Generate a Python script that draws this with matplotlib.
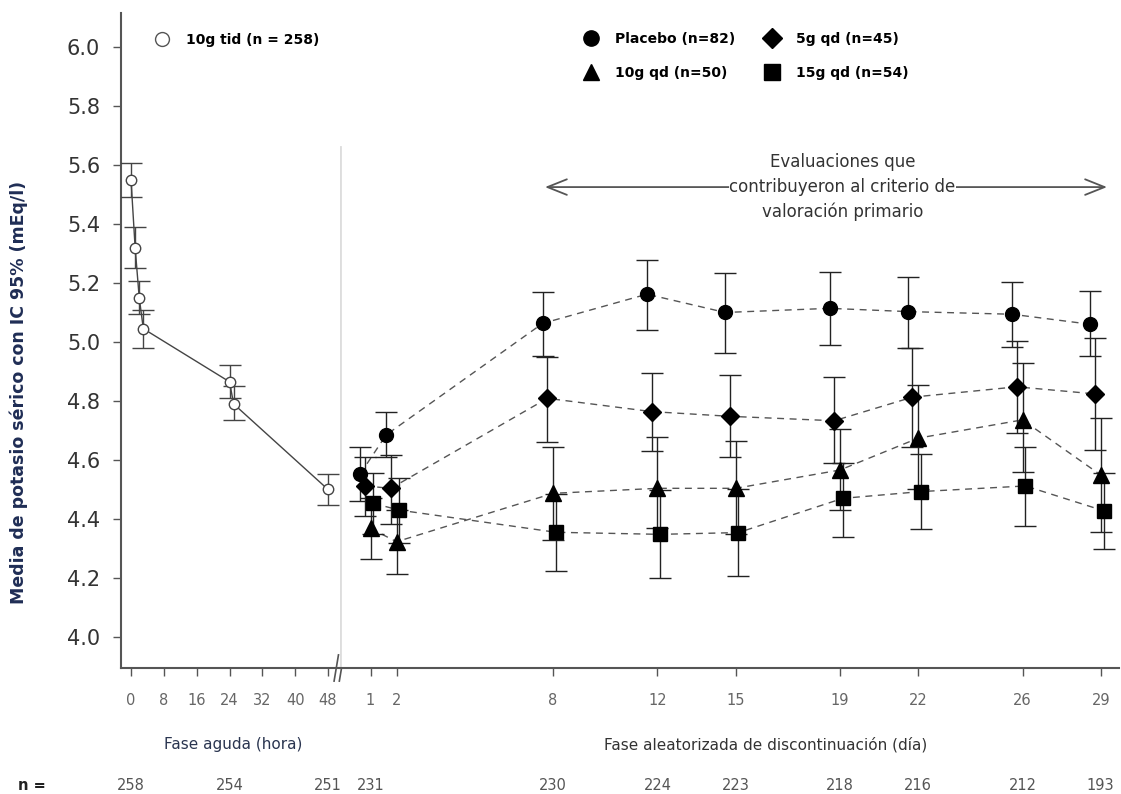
import numpy as np
import matplotlib.pyplot as plt
from matplotlib.lines import Line2D

# ---------------- data ----------------
# acute phase: 10 g tid, hours
acute_hours = [0, 1, 2, 3, 24, 25, 48]
acute_mean = [5.55, 5.32, 5.15, 5.045, 4.865, 4.79, 4.50]
acute_lo = [5.49, 5.25, 5.095, 4.98, 4.81, 4.735, 4.447]
acute_hi = [5.605, 5.39, 5.205, 5.11, 4.922, 4.85, 4.553]

# randomized withdrawal phase, days
days = [1, 2, 8, 12, 15, 19, 22, 26, 29]

placebo_mean = [4.552, 4.685, 5.063, 5.162, 5.10, 5.114, 5.103, 5.094, 5.06]
placebo_lo = [4.46, 4.609, 4.953, 5.041, 4.962, 4.99, 4.979, 4.984, 4.953]
placebo_hi = [4.645, 4.762, 5.171, 5.278, 5.233, 5.238, 5.221, 5.204, 5.173]

g5_mean = [4.512, 4.504, 4.809, 4.764, 4.748, 4.733, 4.813, 4.848, 4.824]
g5_lo = [4.41, 4.383, 4.662, 4.632, 4.609, 4.589, 4.645, 4.69, 4.634]
g5_hi = [4.61, 4.617, 4.95, 4.894, 4.888, 4.882, 4.979, 5.003, 5.013]

g10_mean = [4.368, 4.323, 4.487, 4.504, 4.504, 4.566, 4.674, 4.736, 4.549]
g10_lo = [4.263, 4.213, 4.33, 4.37, 4.35, 4.43, 4.5, 4.56, 4.357]
g10_hi = [4.47, 4.43, 4.643, 4.677, 4.664, 4.704, 4.854, 4.93, 4.741]

g15_mean = [4.453, 4.43, 4.355, 4.348, 4.354, 4.47, 4.493, 4.512, 4.428]
g15_lo = [4.35, 4.32, 4.225, 4.199, 4.207, 4.338, 4.365, 4.376, 4.30]
g15_hi = [4.555, 4.539, 4.485, 4.497, 4.50, 4.59, 4.62, 4.645, 4.555]

acute_ticks = [0, 8, 16, 24, 32, 40, 48]
acute_n = {0: 258, 24: 254, 48: 251}
day_n = [231, None, 230, 224, 223, 218, 216, 212, 193]

groups = [
    ("Placebo (n=82)", placebo_mean, placebo_lo, placebo_hi),
    ("5g qd (n=45)", g5_mean, g5_lo, g5_hi),
    ("10g qd (n=50)", g10_mean, g10_lo, g10_hi),
    ("15g qd (n=54)", g15_mean, g15_lo, g15_hi),
]
# marker style and small horizontal dodge per group
styles = {
    "Placebo (n=82)": dict(marker="o", ms=10, dodge=-0.4),
    "5g qd (n=45)": dict(marker="D", ms=9.5, dodge=-0.22),
    "10g qd (n=50)": dict(marker="^", ms=11, dodge=0.0),
    "15g qd (n=54)": dict(marker="s", ms=10.5, dodge=0.11),
}

# ---------------- figure ----------------
W, H = 1121, 794
fig = plt.figure(figsize=(W / 100, H / 100), dpi=100)

ax_bottom = (H - 668) / H
ax_height = 655 / H
ax1 = fig.add_axes([121 / W, ax_bottom, 219 / W, ax_height])
ax2 = fig.add_axes([340 / W, ax_bottom, 779 / W, ax_height], sharey=ax1)

ylim = (3.895, 6.115)
ax1.set_ylim(*ylim)
ax1.set_xlim(-2.44, 50.92)
ax2.set_xlim(-0.17, 29.7)

spine_col = "#555555"
for ax in (ax1, ax2):
    ax.spines["top"].set_visible(False)
    ax.spines["right"].set_visible(False)
    ax.spines["bottom"].set_color(spine_col)
    ax.spines["bottom"].set_linewidth(1.5)
    ax.tick_params(axis="x", direction="out", length=6, width=1,
                   colors=spine_col, labelcolor="#666666", labelsize=10.5, pad=12)
ax1.spines["left"].set_color(spine_col)
ax1.spines["left"].set_linewidth(1.5)
ax2.spines["left"].set_visible(False)
ax2.tick_params(axis="y", left=False, labelleft=False)

ax1.set_yticks(np.arange(4.0, 6.01, 0.2))
ax1.set_yticklabels([f"{v:.1f}" for v in np.arange(4.0, 6.01, 0.2)])
ax1.tick_params(axis="y", direction="out", length=6, width=1, colors=spine_col,
                labelcolor="#333333", labelsize=15, pad=9)

ax1.set_xticks(acute_ticks)
ax2.set_xticks(days)
ax2.set_xticklabels([str(d) for d in days])

ax1.set_ylabel("Media de potasio sérico con IC 95% (mEq/l)", fontsize=12.5,
               fontweight="bold", color="#1f2d55")
ax1.yaxis.set_label_coords(-0.425, 0.42)

# faint separator between phases
ax2.axvline(ax2.get_xlim()[0], ymin=0, ymax=(5.66 - ylim[0]) / (ylim[1] - ylim[0]),
            color="#dddddd", lw=2, zorder=0)

# axis break marks
for dx in (-0.012, 0.012):
    ax1.plot([0.985 + dx, 1.005 + dx], [-0.02, 0.02], transform=ax1.transAxes,
             color=spine_col, lw=1.2, clip_on=False)

# acute phase
acute_err = [np.array(acute_mean) - np.array(acute_lo),
             np.array(acute_hi) - np.array(acute_mean)]
ax1.errorbar(acute_hours, acute_mean, yerr=acute_err, fmt="-", color="#444444",
             lw=1, elinewidth=1, capsize=8, capthick=1, marker="o", ms=7.5,
             mfc="white", mec="#444444", mew=1, zorder=3)

# randomized phase
for name, mean, lo, hi in groups:
    st = styles[name]
    x = np.array(days) + st["dodge"]
    err = [np.array(mean) - np.array(lo), np.array(hi) - np.array(mean)]
    ax2.plot(x, mean, ls=(0, (5, 4)), color="#555555", lw=1, zorder=2)
    ax2.errorbar(x, mean, yerr=err, fmt="none", ecolor="#222222", elinewidth=1,
                 capsize=8, capthick=1, zorder=3)
    ax2.plot(x, mean, ls="none", marker=st["marker"], ms=st["ms"], color="black",
             zorder=4)

# primary endpoint window
ax2.annotate("", xy=(7.69, 5.525), xytext=(29.24, 5.525),
             arrowprops=dict(arrowstyle="<->, head_length=1.0, head_width=0.4",
                             color="#555555", lw=1.3, mutation_scale=14,
                             shrinkA=0, shrinkB=0))
ax2.text(19.1, 5.525, "Evaluaciones que\ncontribuyeron al criterio de\nvaloración primario",
         ha="center", va="center", fontsize=12, color="#333333", linespacing=1.45,
         bbox=dict(facecolor="white", edgecolor="none", pad=0))

# legends
h_acute = [Line2D([], [], ls="none", marker="o", ms=10, mfc="white", mec="#555555")]
leg1 = fig.legend(h_acute, ["10g tid (n = 258)"], loc="upper left",
                  bbox_to_anchor=(155 / W, 1 - 33 / H), frameon=False,
                  prop=dict(size=10, weight="bold"), handlelength=1.0,
                  handletextpad=1.2, borderpad=0, borderaxespad=0)

order = ["Placebo (n=82)", "10g qd (n=50)", "5g qd (n=45)", "15g qd (n=54)"]
h_rand = [Line2D([], [], ls="none", marker=styles[n]["marker"],
                 ms=styles[n]["ms"] + 1, color="black") for n in order]
leg2 = fig.legend(h_rand, order, loc="upper left", ncol=2,
                  bbox_to_anchor=(584 / W, 1 - 32 / H), frameon=False,
                  prop=dict(size=10, weight="bold"), handlelength=1.0,
                  handletextpad=1.2, labelspacing=1.45, columnspacing=2.2,
                  borderpad=0, borderaxespad=0)

# phase labels
fig.text(233 / W, 1 - 745 / H, "Fase aguda (hora)", ha="center", va="center",
         fontsize=11, color="#2a3550")
fig.text(766 / W, 1 - 745 / H, "Fase aleatorizada de discontinuación (día)",
         ha="center", va="center", fontsize=11, color="#333333")

# patients at each visit
n_y = -(785 - 668) / 655
fig.text(32 / W, 1 - 785 / H, "n =", ha="center", va="center", fontsize=10.5,
         fontweight="bold", color="#222222")
for h, n in acute_n.items():
    ax1.text(h, n_y, str(n), transform=ax1.get_xaxis_transform(), ha="center",
             va="center", fontsize=10.5, color="#555555", clip_on=False)
for d, n in zip(days, day_n):
    if n is None:
        continue
    ax2.text(d, n_y, str(n), transform=ax2.get_xaxis_transform(), ha="center",
             va="center", fontsize=10.5, color="#555555", clip_on=False)

fig.savefig("out.png", dpi=100, facecolor="white")
